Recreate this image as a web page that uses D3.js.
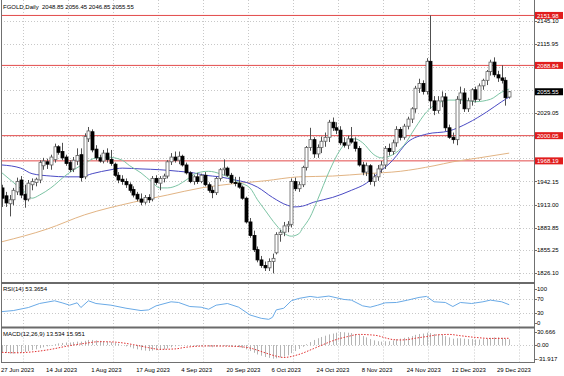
<!DOCTYPE html>
<html>
<head>
<meta charset="utf-8">
<script src="https://cdn.jsdelivr.net/npm/d3@7"></script>
<style>
  html, body { margin: 0; padding: 0; background: #fff; }
  svg { display: block; font-family: "Liberation Sans", Arial, sans-serif; font-size: 6px; }
  .pre { white-space: pre; }
</style>
</head>
<body>
<svg id="chart" width="564" height="376"></svg>
<script>
// daily bars, FGOLD 27 Jun 2023 .. 4 Jan 2024 (bar index 0..135)
const opens = [1934,1924,1914,1919,1929,1944,1926,1920,1938,1941,
  1944,1962,1967,1963,1970,1986,1980,1973,1966,1958,
  1968,1976,1948,1996,2005,1983,1972,1968,1978,1970,
  1964,1950,1945,1942,1938,1932,1926,1920,1916,1922,
  1920,1946,1940,1946,1949,1967,1973,1969,1974,1963,
  1953,1942,1948,1942,1950,1938,1931,1928,1946,1957,
  1959,1950,1941,1940,1935,1921,1891,1874,1856,1843,
  1836,1833,1841,1852,1875,1878,1886,1888,1942,1933,
  1938,1960,1985,1995,1977,1985,1993,1998,2017,2010,
  2007,1991,1988,1996,1992,1984,1963,1954,1962,1942,
  1948,1958,1963,1984,1980,1991,2008,1998,2012,2021,
  2034,2060,2066,2056,2094,2044,2032,2044,2049,2010,
  1998,1995,2046,2054,2034,2044,2058,2046,2063,2070,
  2081,2093,2077,2073,2070,2048.85];
const highs = [1938,1929,1925,1934,1947,1949,1938,1944,1946,1947,
  1969,1972,1971,1976,1990,1988,1991,1976,1969,1973,
  1984,1984,2003,2011,2008,1988,1976,1982,1984,1982,
  1966,1954,1950,1946,1941,1936,1929,1927,1925,1926,
  1949,1950,1949,1952,1969,1978,1980,1980,1976,1966,
  1955,1950,1953,1952,1954,1941,1936,1948,1959,1970,
  1961,1953,1948,1948,1937,1923,1896,1880,1860,1848,
  1841,1845,1851,1878,1881,1891,1892,1946,1947,1942,
  1962,1987,2010,1998,1989,1999,2004,2020,2023,2017,
  2012,1998,2000,2011,1998,1987,1967,1966,1964,1952,
  1963,1968,1987,1990,1995,2012,2011,2015,2024,2036,
  2063,2072,2070,2098,2152,2050,2050,2056,2054,2014,
  2004,2050,2062,2060,2048,2060,2062,2066,2072,2083,
  2096,2099,2082,2089,2074,2056.45];
const lows = [1910,1910,1898,1912,1925,1921,1909,1917,1931,1936,
  1940,1957,1958,1957,1966,1976,1969,1962,1954,1954,
  1963,1942,1945,1992,1979,1969,1966,1965,1966,1962,
  1948,1940,1938,1934,1928,1922,1917,1912,1913,1915,
  1917,1938,1931,1941,1946,1963,1966,1964,1961,1951,
  1940,1938,1939,1940,1936,1928,1921,1925,1943,1950,
  1948,1939,1936,1933,1919,1889,1871,1853,1840,1833,
  1829,1829,1826,1850,1866,1873,1878,1884,1930,1929,
  1935,1956,1981,1972,1972,1978,1986,1992,2006,2002,
  1988,1985,1983,1990,1980,1961,1950,1949,1938,1936,
  1943,1953,1958,1975,1976,1986,1994,1995,2008,2016,
  2029,2054,2052,2052,2034,2026,2028,2036,2006,1996,
  1990,1988,2040,2030,2030,2038,2042,2044,2058,2064,
  2076,2074,2068,2066,2038,2046.85];
const closes = [1921,1915,1919,1931,1942,1925,1919,1940,1942,1945,
  1966,1968,1964,1973,1986,1979,1972,1965,1957,1969,
  1975,1947,1999,2006,1982,1972,1968,1978,1970,1965,
  1950,1944,1942,1938,1931,1925,1920,1916,1922,1919,
  1946,1941,1946,1949,1967,1973,1969,1974,1963,1953,
  1942,1948,1942,1950,1938,1931,1928,1946,1957,1959,
  1950,1941,1940,1935,1921,1891,1874,1856,1843,1836,
  1833,1841,1845,1875,1878,1886,1888,1942,1933,1938,
  1960,1985,1995,1977,1985,1993,1998,2017,2010,2007,
  1991,1988,1996,1992,1984,1963,1954,1962,1942,1948,
  1958,1963,1984,1980,1991,2008,1998,2012,2021,2034,
  2060,2066,2056,2094,2044,2032,2044,2049,2010,1998,
  1995,2046,2054,2034,2044,2058,2046,2063,2070,2081,
  2093,2077,2073,2070,2048,2055.55];

// moving averages (bar index, price)
const maFastBars = [0,3,6,8,10,13,17,22,25,28,32,34,37,40,42,44,47,49,52,55,58,61,63,66,68,70,73,75,77,79,80,82,84,87,90,92,94,96,99,101,104,107,110,113,116,119,123,126,130,133,135];
const maFast = [1953,1941,1929,1921,1925,1934,1950,1965,1972,1973,1969,1962,1953,1941,1934,1934,1938,1944,1953,1955,1952,1946,1941,1934,1919,1906,1887,1877,1873,1876,1883,1897,1919,1954,1982,1993,1996,1991,1976,1972,1976,1988,2010,2030,2041,2045,2045,2043,2046,2055,2059];
const maMidBars = [0,5,8,13,17,21,24,29,32,37,42,47,51,54,58,62,65,68,72,76,78,80,83,88,93,97,100,104,108,113,119,124,129,133,135];
const maMid = [1963,1959,1952,1949,1948,1948,1952,1957,1959,1958,1957,1955,1953,1950,1948,1944,1941,1935,1922,1912,1910,1911,1916,1922,1931,1940,1952,1969,1992,2002,2006,2016,2030,2043,2049];
const maSlowBars = [0,12,22,35,44,53,61,70,79,88,97,106,115,120,127,135];
const maSlow = [1866,1882,1900,1916,1925,1934,1939,1943,1948,1949,1952,1955,1962,1967,1972,1978];

const rsiBars = [0,3,7,10,14,16,18,20,21,23,25,29,33,37,39,41,45,47,50,53,55,57,60,63,66,69,71,72,73,75,77,79,82,84,87,91,93,96,98,100,102,105,108,111,113,115,118,120,122,125,128,130,133,135];
const rsiValues = [33,36,45,57,65,59,52,59,45,65,57,52,43,36,38,50,62,60,48,46,40,52,57,46,23,13,10,16,38,43,65,72,78,75,79,69,67,50,46,52,59,60,67,75,78,62,60,48,60,57,62,67,62,53.3654];

const macdMain = [-16,-18,-20,-20,-19,-18,-16,-14,-12,-10,
  -7,-5,-3,-1,2,4,5,6,6,7,
  8,8,10,12,12,11,10,9,8,7,
  5,3,0,-3,-5,-8,-10,-12,-13,-14,
  -13,-12,-11,-10,-8,-5,-3,-1,0,0,
  -1,-1,-2,-2,-3,-4,-5,-4,-3,-2,
  -2,-3,-4,-5,-7,-10,-14,-18,-22,-25,
  -28,-30,-31.9,-31,-29,-27,-24,-19,-14,-9,
  -4,2,7,12,16,19,22,25,27,29,
  30.6,30,29,28,26,24,21,18,14,11,
  9,8,9,9,11,14,15,17,19,21,
  24,26,27,29,28,26,25,24,21,18,
  15,16,16,15,14,14,13,13,14,15,
  17,18,18,17,15,13.534];
const macdSignalBars = [0,4,8,13,17,22,26,30,35,39,42,46,49,55,62,66,70,73,75,79,83,86,88,92,95,98,100,102,104,106,108,110,113,116,119,122,126,130,135];
const macdSignal = [-17,-18,-16,-10,-3,4,8,7,1,-6,-10,-9,-5,-2,-3,-7,-18,-26,-29,-22,-8,3,10,20,25,24,22,17,13,12,13,16,20,24,25,22,18,15.6,15.951];

const dateLabels = ["27 Jun 2023","14 Jul 2023","1 Aug 2023","17 Aug 2023","4 Sep 2023","20 Sep 2023","6 Oct 2023","24 Oct 2023","8 Nov 2023","24 Nov 2023","12 Dec 2023","29 Dec 2023"];
const dateLabelBars = [0,12,24,36,48,60,72,84,96,108,120,132];
const priceTicks = [1826.10,1855.25,1883.85,1913.00,1942.15,1971.30,2000.20,2029.05,2058.20,2087.35,2115.95,2145.10];
const levelLines = [2151.98,2088.84,2000.05,1968.19];
const lastPrice = 2055.55;
const rsiTicks = [100,70,30,0];
const macdTicks = [30.666,0,-31.917];

const RIGHT = 534;
const svg = d3.select("#chart");

const x = d3.scaleLinear().domain([0, 135]).range([2, 509.2]);
const y = d3.scaleLinear().domain([1815.1, 2171.5]).range([282, 0]);
const yRsi = d3.scaleLinear().domain([0, 100]).range([322.7, 289]);
const yMacd = d3.scaleLinear().domain([-31.917, 30.666]).range([358.7, 332]);

const panels = [
  { id: "clipMain", y0: 0, y1: 282 },
  { id: "clipRsi", y0: 284, y1: 326.5 },
  { id: "clipMacd", y0: 328.5, y1: 362 },
];
let defs = svg.append("defs");
panels.forEach((p) => {
  defs.append("clipPath").attr("id", p.id)
    .append("rect").attr("x", 1).attr("y", p.y0).attr("width", RIGHT - 1).attr("height", p.y1 - p.y0);
});

// grid
let grid = svg.append("g").attr("stroke", "#c8c8c8").attr("stroke-dasharray", "1,2").attr("stroke-width", 1);
grid.selectAll(".hg").data(priceTicks).enter().append("line")
  .attr("x1", 1).attr("x2", RIGHT)
  .attr("y1", (d) => Math.round(y(d)) + 0.5).attr("y2", (d) => Math.round(y(d)) + 0.5);
grid.selectAll(".hr").data([70, 30]).enter().append("line")
  .attr("x1", 1).attr("x2", RIGHT)
  .attr("y1", (d) => Math.round(yRsi(d)) + 0.5).attr("y2", (d) => Math.round(yRsi(d)) + 0.5);
grid.append("line").attr("x1", 1).attr("x2", RIGHT)
  .attr("y1", Math.round(yMacd(0)) + 0.5).attr("y2", Math.round(yMacd(0)) + 0.5);
panels.forEach((p) => {
  grid.selectAll(null).data(dateLabelBars).enter().append("line")
    .attr("x1", (d) => Math.round(x(d + 5.5)) + 0.5).attr("x2", (d) => Math.round(x(d + 5.5)) + 0.5)
    .attr("y1", p.y0).attr("y2", p.y1);
});

// support / resistance levels
svg.append("g").selectAll("line").data(levelLines).enter().append("line")
  .attr("x1", 1).attr("x2", RIGHT)
  .attr("y1", (d) => y(d)).attr("y2", (d) => y(d))
  .attr("stroke", "#e24a4a").attr("stroke-width", 1);

// moving averages
let mainG = svg.append("g").attr("clip-path", "url(#clipMain)");
const maLine = d3.line().x((d) => x(d[0])).y((d) => y(d[1])).curve(d3.curveMonotoneX);
[
  [maSlowBars, maSlow, "#e2b484"],
  [maMidBars, maMid, "#4a4ac4"],
  [maFastBars, maFast, "#7cc4a4"],
].forEach(([bars, vals, col]) => {
  mainG.append("path")
    .attr("d", maLine(d3.zip(bars, vals)))
    .attr("fill", "none").attr("stroke", col).attr("stroke-width", 1);
});

// candles
let candles = mainG.selectAll(".c").data(d3.range(opens.length)).enter().append("g");
candles.append("line")
  .attr("x1", (i) => Math.round(x(i)) + 0.5).attr("x2", (i) => Math.round(x(i)) + 0.5)
  .attr("y1", (i) => y(highs[i])).attr("y2", (i) => y(lows[i]))
  .attr("stroke", "#505050").attr("stroke-width", 1);
candles.append("rect")
  .attr("x", (i) => Math.round(x(i)) - 1)
  .attr("width", 3)
  .attr("y", (i) => y(Math.max(opens[i], closes[i])))
  .attr("height", (i) => Math.max(1, Math.abs(y(opens[i]) - y(closes[i]))))
  .attr("fill", (i) => (closes[i] >= opens[i] ? "#fff" : "#000"))
  .attr("stroke", (i) => (closes[i] >= opens[i] ? "#606060" : "#000"))
  .attr("stroke-width", 0.8);

// RSI
svg.append("g").attr("clip-path", "url(#clipRsi)").append("path")
  .attr("d", d3.line().x((d) => x(d[0])).y((d) => yRsi(d[1]))(d3.zip(rsiBars, rsiValues)))
  .attr("fill", "none").attr("stroke", "#6aaae6").attr("stroke-width", 1);

// MACD
let macdG = svg.append("g").attr("clip-path", "url(#clipMacd)");
macdG.selectAll("line").data(macdMain).enter().append("line")
  .attr("x1", (d, i) => Math.round(x(i)) + 0.5).attr("x2", (d, i) => Math.round(x(i)) + 0.5)
  .attr("y1", yMacd(0)).attr("y2", (d) => yMacd(d))
  .attr("stroke", "#b4b4b4").attr("stroke-width", 1);
macdG.append("path")
  .attr("d", d3.line().x((d) => x(d[0])).y((d) => yMacd(d[1])).curve(d3.curveMonotoneX)(d3.zip(macdSignalBars, macdSignal)))
  .attr("fill", "none").attr("stroke", "#e03030").attr("stroke-width", 1).attr("stroke-dasharray", "1.5,1.5");

// frame and panel separators
let frame = svg.append("g").attr("stroke", "#707070").attr("fill", "none");
frame.append("line").attr("x1", 1.5).attr("x2", 1.5).attr("y1", 0).attr("y2", 362);
frame.append("line").attr("x1", RIGHT + 0.5).attr("x2", RIGHT + 0.5).attr("y1", 0).attr("y2", 362);
frame.append("line").attr("x1", 1).attr("x2", RIGHT + 1).attr("y1", 362.5).attr("y2", 362.5);
frame.selectAll(".sep").data([283, 327.6]).enter().append("line")
  .attr("x1", 1).attr("x2", RIGHT + 1).attr("y1", (d) => d).attr("y2", (d) => d)
  .attr("stroke", "#6a6a6a").attr("stroke-width", 2);

// right axis labels (price labels hidden under a price box are left out)
const boxValues = levelLines.concat([lastPrice]);
const visibleTicks = priceTicks.filter((v) => boxValues.every((b) => Math.abs(y(v) - y(b)) > 5));
let axisG = svg.append("g");
const rightLabels = [
  ...visibleTicks.map((v) => [y(v), v.toFixed(2)]),
  ...rsiTicks.map((v) => [yRsi(v), String(v)]),
  ...macdTicks.map((v) => [yMacd(v), v === 0 ? "0.00" : String(v)]),
];
axisG.selectAll("line").data(rightLabels).enter().append("line")
  .attr("x1", RIGHT).attr("x2", RIGHT + 3)
  .attr("y1", (d) => Math.round(d[0]) + 0.5).attr("y2", (d) => Math.round(d[0]) + 0.5)
  .attr("stroke", "#707070");
axisG.selectAll("text").data(rightLabels).enter().append("text")
  .attr("x", RIGHT + 3).attr("y", (d) => d[0]).attr("dy", "0.35em")
  .attr("fill", "#000").text((d) => d[1]);

// price boxes
const boxes = levelLines.map((v) => [v, "#e11d1d"]).concat([[lastPrice, "#000"]]);
let boxG = svg.append("g").selectAll("g").data(boxes).enter().append("g");
boxG.append("rect")
  .attr("x", RIGHT + 1).attr("width", 28)
  .attr("y", (d) => y(d[0]) - 3.5).attr("height", 7)
  .attr("fill", (d) => d[1]);
boxG.append("text")
  .attr("x", RIGHT + 3).attr("y", (d) => y(d[0])).attr("dy", "0.35em")
  .attr("fill", "#fff").text((d) => d[0].toFixed(2));

// date labels
svg.append("g").selectAll("text").data(dateLabelBars).enter().append("text")
  .attr("x", (d) => x(d) - 1).attr("y", 371.5)
  .attr("fill", "#000").text((d, i) => dateLabels[i]);

// window captions
svg.append("text").attr("class", "pre").attr("x", 3).attr("y", 8.5)
  .text("FGOLD,Daily  " + [opens[135], highs[135], lows[135], closes[135]].map((v) => v.toFixed(2)).join(" "));
svg.append("text").attr("x", 3).attr("y", 291).text("RSI(14) " + rsiValues[rsiValues.length - 1].toFixed(4));
svg.append("text").attr("x", 3).attr("y", 335.5)
  .text("MACD(12,26,9) " + macdMain[macdMain.length - 1].toFixed(3) + " " + macdSignal[macdSignal.length - 1].toFixed(3));
</script>
</body>
</html>
